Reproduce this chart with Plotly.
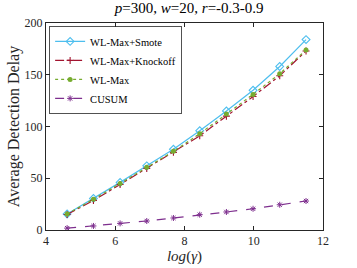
import numpy as np
import plotly.graph_objects as go

log_gamma = [4.61, 5.37, 6.14, 6.91, 7.68, 8.44, 9.21, 9.98, 10.75, 11.51]
smote = [15.5, 30.5, 46, 62, 78, 96, 115, 135, 158, 184]
knockoff = [15, 28.5, 44, 59.5, 75, 91, 110, 129, 149, 173]
wlmax = [15.5, 29.6, 45, 60.6, 76, 93, 112, 131, 151, 174]
cusum = [1.8, 3.9, 6.4, 8.7, 11.6, 14.8, 17.4, 20.5, 24.4, 28]

font_family = "Liberation Serif"

fig = go.Figure()
fig.add_trace(go.Scatter(x=log_gamma, y=smote, name="WL-Max+Smote", mode="lines+markers",
                         line=dict(color="#4DBEEE", width=1.2),
                         marker=dict(symbol="diamond-open", size=6, color="#4DBEEE", line=dict(width=1.1))))
fig.add_trace(go.Scatter(x=log_gamma, y=knockoff, name="WL-Max+Knockoff", mode="lines+markers",
                         line=dict(color="#A2142F", width=1.2, dash="dashdot"),
                         marker=dict(symbol="cross-thin", size=5, color="#A2142F", line=dict(width=1.1, color="#A2142F"))))
fig.add_trace(go.Scatter(x=log_gamma, y=wlmax, name="WL-Max", mode="lines+markers",
                         line=dict(color="#77AC30", width=1.2, dash="dot"),
                         marker=dict(symbol="circle", size=5, color="#77AC30")))
fig.add_trace(go.Scatter(x=log_gamma, y=cusum, name="CUSUM", mode="lines+markers",
                         line=dict(color="#7E2F8E", width=1.2, dash="dash"),
                         marker=dict(symbol="asterisk", size=5, color="#7E2F8E", line=dict(width=1, color="#7E2F8E"))))

axis_common = dict(showline=True, linecolor="#262626", linewidth=1, mirror="ticks",
                   ticks="inside", ticklen=4, tickcolor="#262626", showgrid=False, zeroline=False,
                   automargin=False,
                   tickfont=dict(family=font_family, size=12, color="#262626"))

fig.update_layout(
    width=357, height=268,
    margin=dict(l=46, r=34, t=23, b=38),
    paper_bgcolor="white", plot_bgcolor="white",
    font=dict(family=font_family, color="#262626"),
    title=dict(text="<i>p</i>=300, <i>w</i>=20, <i>r</i>=-0.3-0.9", x=0.53, xanchor="center",
               y=0.99, yanchor="top", automargin=False, font=dict(family=font_family, size=15, color="#000")),
    xaxis=dict(range=[4, 12], tickvals=[4, 6, 8, 10, 12],
               title=dict(text="<i>log</i>(<i>γ</i>)", standoff=0, font=dict(family=font_family, size=15, color="#262626")),
               **axis_common),
    yaxis=dict(range=[0, 200], tickvals=[0, 50, 100, 150, 200],
               title=dict(text="Average Detection Delay", standoff=0, font=dict(family=font_family, size=16, color="#262626")),
               **axis_common),
    legend=dict(x=0.012, y=0.985, xanchor="left", yanchor="top", bgcolor="white",
                bordercolor="#262626", borderwidth=0.8,
                font=dict(family=font_family, size=10.5, color="#000"),
                tracegroupgap=0, itemwidth=30),
    showlegend=True,
)

fig.write_html("out.html", config={"displayModeBar": False},
               post_script="document.body.style.margin='0';")
